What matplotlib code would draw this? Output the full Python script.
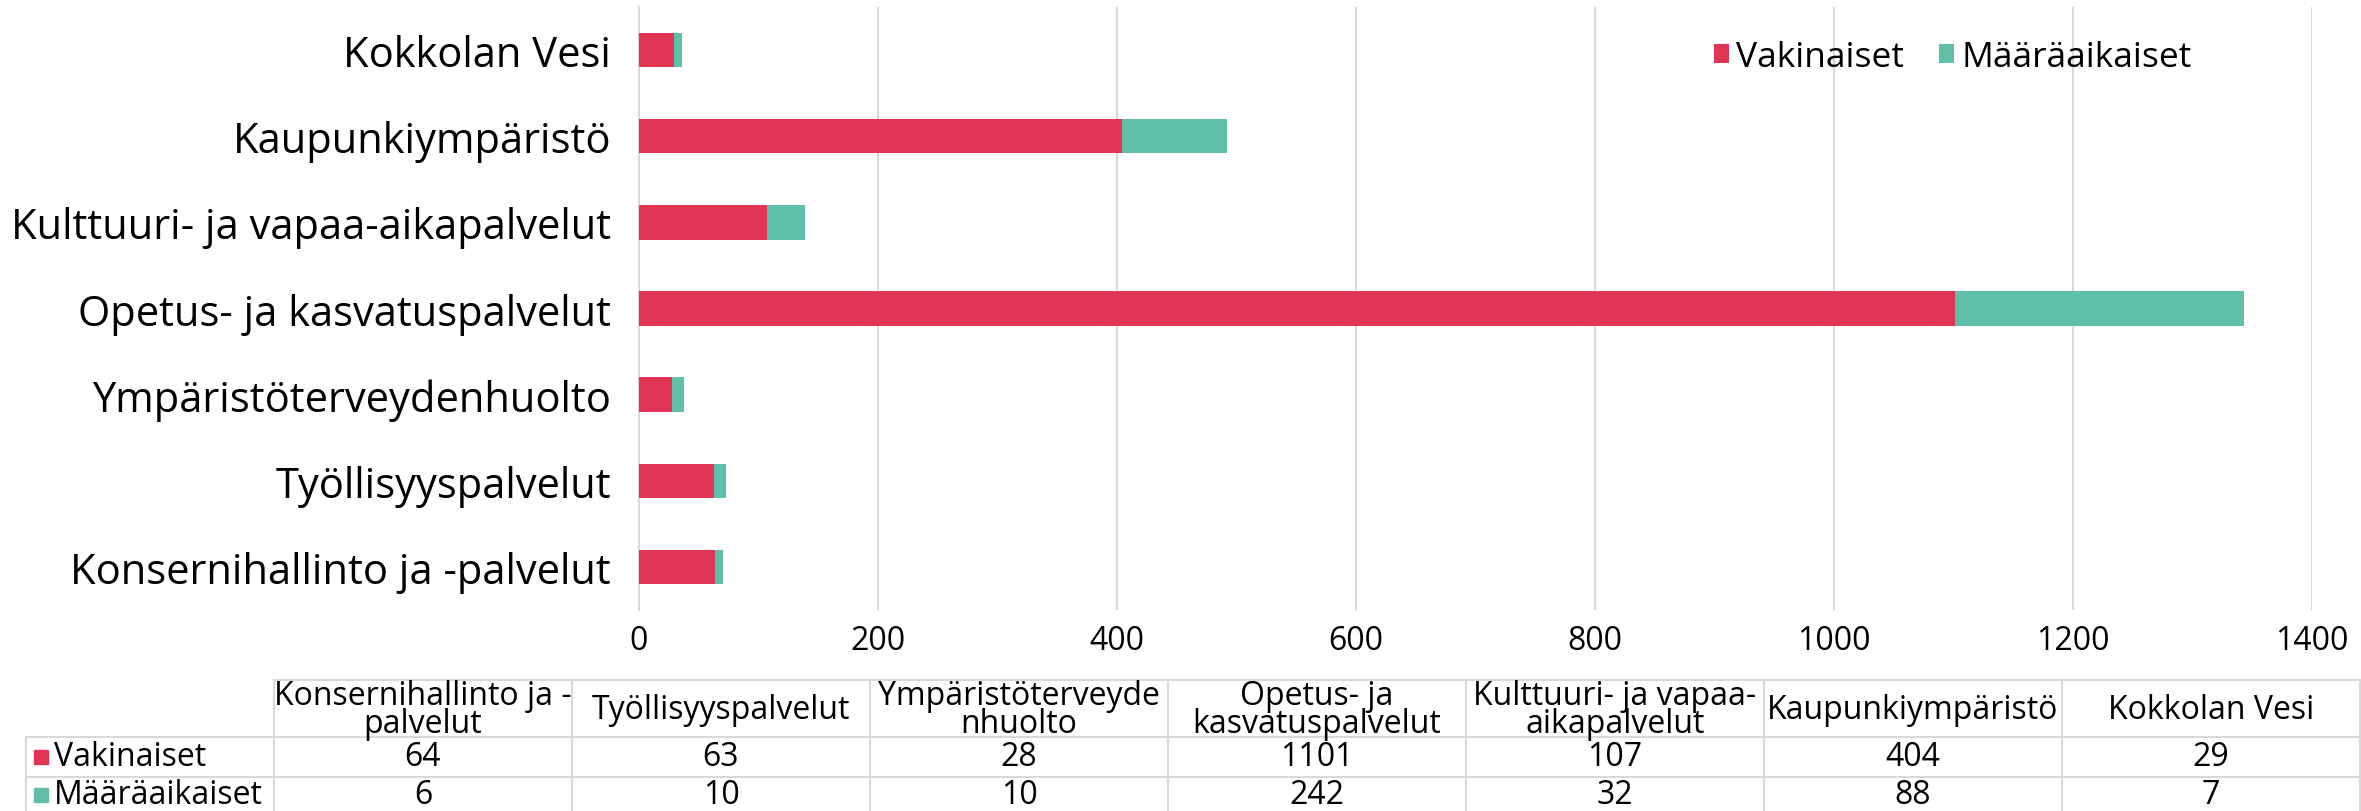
import matplotlib
matplotlib.use("Agg")
import matplotlib.pyplot as plt
import numpy as np

plt.rcParams['font.family'] = ['Open Sans', 'DejaVu Sans']

# data, bottom to top as in the chart
categories = ["Konsernihallinto ja -palvelut", "Työllisyyspalvelut",
              "Ympäristöterveydenhuolto", "Opetus- ja kasvatuspalvelut",
              "Kulttuuri- ja vapaa-aikapalvelut", "Kaupunkiympäristö",
              "Kokkolan Vesi"]
table_headers = ["Konsernihallinto ja -\npalvelut", "Työllisyyspalvelut",
                 "Ympäristöterveyde\nnhuolto", "Opetus- ja\nkasvatuspalvelut",
                 "Kulttuuri- ja vapaa-\naikapalvelut", "Kaupunkiympäristö",
                 "Kokkolan Vesi"]
series_names = ["Vakinaiset", "Määräaikaiset"]
vakinaiset = [64, 63, 28, 1101, 107, 404, 29]
maaraaikaiset = [6, 10, 10, 242, 32, 88, 7]
x_ticks = [0, 200, 400, 600, 800, 1000, 1200, 1400]

red = "#E03555"
teal = "#5FBFA8"
grid_col = "#D9D9D9"

W, H = 2361, 812
fig = plt.figure(figsize=(W / 100, H / 100), dpi=100)
ax = fig.add_axes([639 / W, 1 - 611 / H, (2312 - 639) / W, (611 - 8) / H])

y = np.arange(len(categories))
b1 = ax.barh(y, vakinaiset, height=0.4, color=red, label=series_names[0], zorder=3)
b2 = ax.barh(y, maaraaikaiset, left=vakinaiset, height=0.4, color=teal,
             label=series_names[1], zorder=3)

ax.set_xlim(0, 1400)
ax.set_ylim(-0.5, len(categories) - 0.5)
ax.set_xticks(x_ticks)
ax.set_yticks(y)
ax.set_yticklabels(categories, fontsize=30)
ax.tick_params(axis='x', labelsize=23, length=0, pad=10)
ax.tick_params(axis='y', length=0, pad=20)
ax.grid(axis='x', color=grid_col, linewidth=1.5, zorder=0)
for s in ["top", "right", "bottom"]:
    ax.spines[s].set_visible(False)
ax.spines["left"].set_color(grid_col)
ax.spines["left"].set_linewidth(1.5)

leg = ax.legend(handles=[b1, b2], ncol=2, frameon=False, fontsize=25.5,
                loc="center left", bbox_to_anchor=(1714 / W, 1 - 58 / H),
                bbox_transform=fig.transFigure, handlelength=0.42,
                handleheight=0.42, handletextpad=0.2, columnspacing=1.0,
                borderaxespad=0, borderpad=0)

# data table below the chart, drawn in pixel coordinates
tab = fig.add_axes([0, 0, 1, 1])
tab.set_xlim(0, W)
tab.set_ylim(H, 0)
tab.axis("off")
col_x = [274 + 298 * i for i in range(len(categories) + 1)]
top, hdr_bot, r1_bot, r2_bot = 681, 738, 778, 818
lw = 1.5
tab.plot([col_x[0], col_x[-1]], [top, top], color=grid_col, lw=lw)
for yy in (hdr_bot, r1_bot):
    tab.plot([26, col_x[-1]], [yy, yy], color=grid_col, lw=lw)
tab.plot([26, 26], [hdr_bot, r2_bot], color=grid_col, lw=lw)
for xx in col_x:
    tab.plot([xx, xx], [top, r2_bot], color=grid_col, lw=lw)

for i, h in enumerate(table_headers):
    cx = (col_x[i] + col_x[i + 1]) / 2
    tab.text(cx, (top + hdr_bot) / 2 + 1, h, ha="center", va="center",
             fontsize=23, linespacing=0.82)

rows = [(series_names[0], vakinaiset, red, (hdr_bot + r1_bot) / 2),
        (series_names[1], maaraaikaiset, teal, (r1_bot + r2_bot) / 2 - 2)]
for name, vals, col, cy in rows:
    tab.add_patch(plt.Rectangle((34, cy - 7), 14, 14, color=col))
    tab.text(54, cy, name, ha="left", va="center", fontsize=23)
    for i, v in enumerate(vals):
        cx = (col_x[i] + col_x[i + 1]) / 2
        tab.text(cx, cy, str(v), ha="center", va="center", fontsize=23)

fig.savefig("out.png", dpi=100, facecolor="white")
